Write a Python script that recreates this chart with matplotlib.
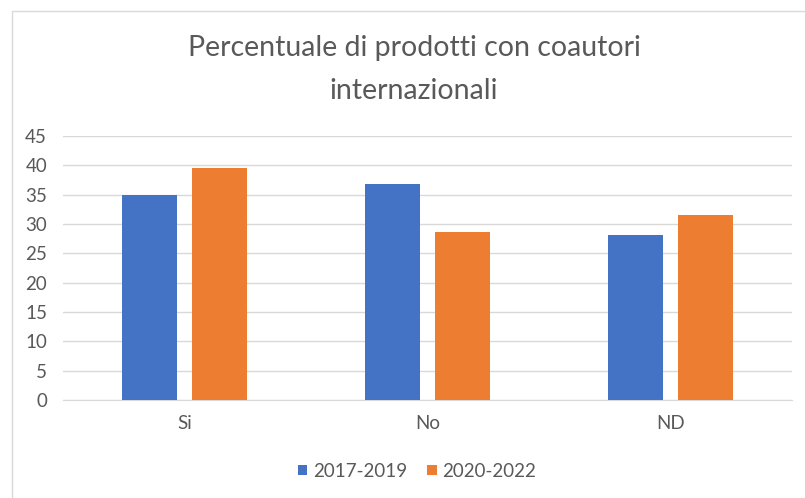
import matplotlib.pyplot as plt
from matplotlib.patches import Rectangle
import numpy as np

categories = ['Si', 'No', 'ND']
series_names = ['2017-2019', '2020-2022']
vals_2017_2019 = [35.0, 36.8, 28.1]
vals_2020_2022 = [39.5, 28.7, 31.6]
yticks = [0, 5, 10, 15, 20, 25, 30, 35, 40, 45]

blue = '#4472C4'
orange = '#ED7D31'
grey_text = '#595959'

plt.rcParams['font.family'] = ['Lato', 'DejaVu Sans']

fig = plt.figure(figsize=(8.05, 4.98), dpi=100)
# chart area border
fig.patches.append(Rectangle((12 / 805, -0.05), 1.0, 1 - 11 / 498 + 0.05,
                             transform=fig.transFigure, fill=False,
                             edgecolor='#D9D9D9', linewidth=1.0))

ax = fig.add_axes([63 / 805, 1 - 400 / 498, 729 / 805, (400 - 136) / 498])

x = np.arange(len(categories))
w = 0.225
off = 0.144
ax.bar(x - off, vals_2017_2019, w, color=blue, label=series_names[0], zorder=3)
ax.bar(x + off, vals_2020_2022, w, color=orange, label=series_names[1], zorder=3)

ax.set_xlim(-0.5, len(categories) - 0.5)
ax.set_ylim(0, 45)
ax.set_yticks(yticks)
ax.set_xticks(x)
ax.set_xticklabels(categories)
ax.grid(axis='y', color='#D9D9D9', linewidth=1.0, zorder=0)
for s in ['top', 'right', 'left']:
    ax.spines[s].set_visible(False)
ax.spines['bottom'].set_color('#D9D9D9')
ax.tick_params(axis='both', length=0, labelsize=13.5, colors=grey_text)
ax.tick_params(axis='x', pad=10.5)
ax.tick_params(axis='y', pad=11.5)

fig.text(414 / 805, 1 - 48 / 498, 'Percentuale di prodotti con coautori',
         ha='center', va='center', fontsize=20.5, color=grey_text)
fig.text(414 / 805, 1 - 91 / 498, 'internazionali', ha='center', va='center',
         fontsize=20.5, color=grey_text)

fig.legend(loc='center', bbox_to_anchor=(417 / 805, 1 - 471 / 498), ncol=2,
           frameon=False, fontsize=13.5, handlelength=0.5, handleheight=0.5,
           columnspacing=1.1, handletextpad=0.3, labelcolor=grey_text)

fig.savefig('out.png', dpi=100)
